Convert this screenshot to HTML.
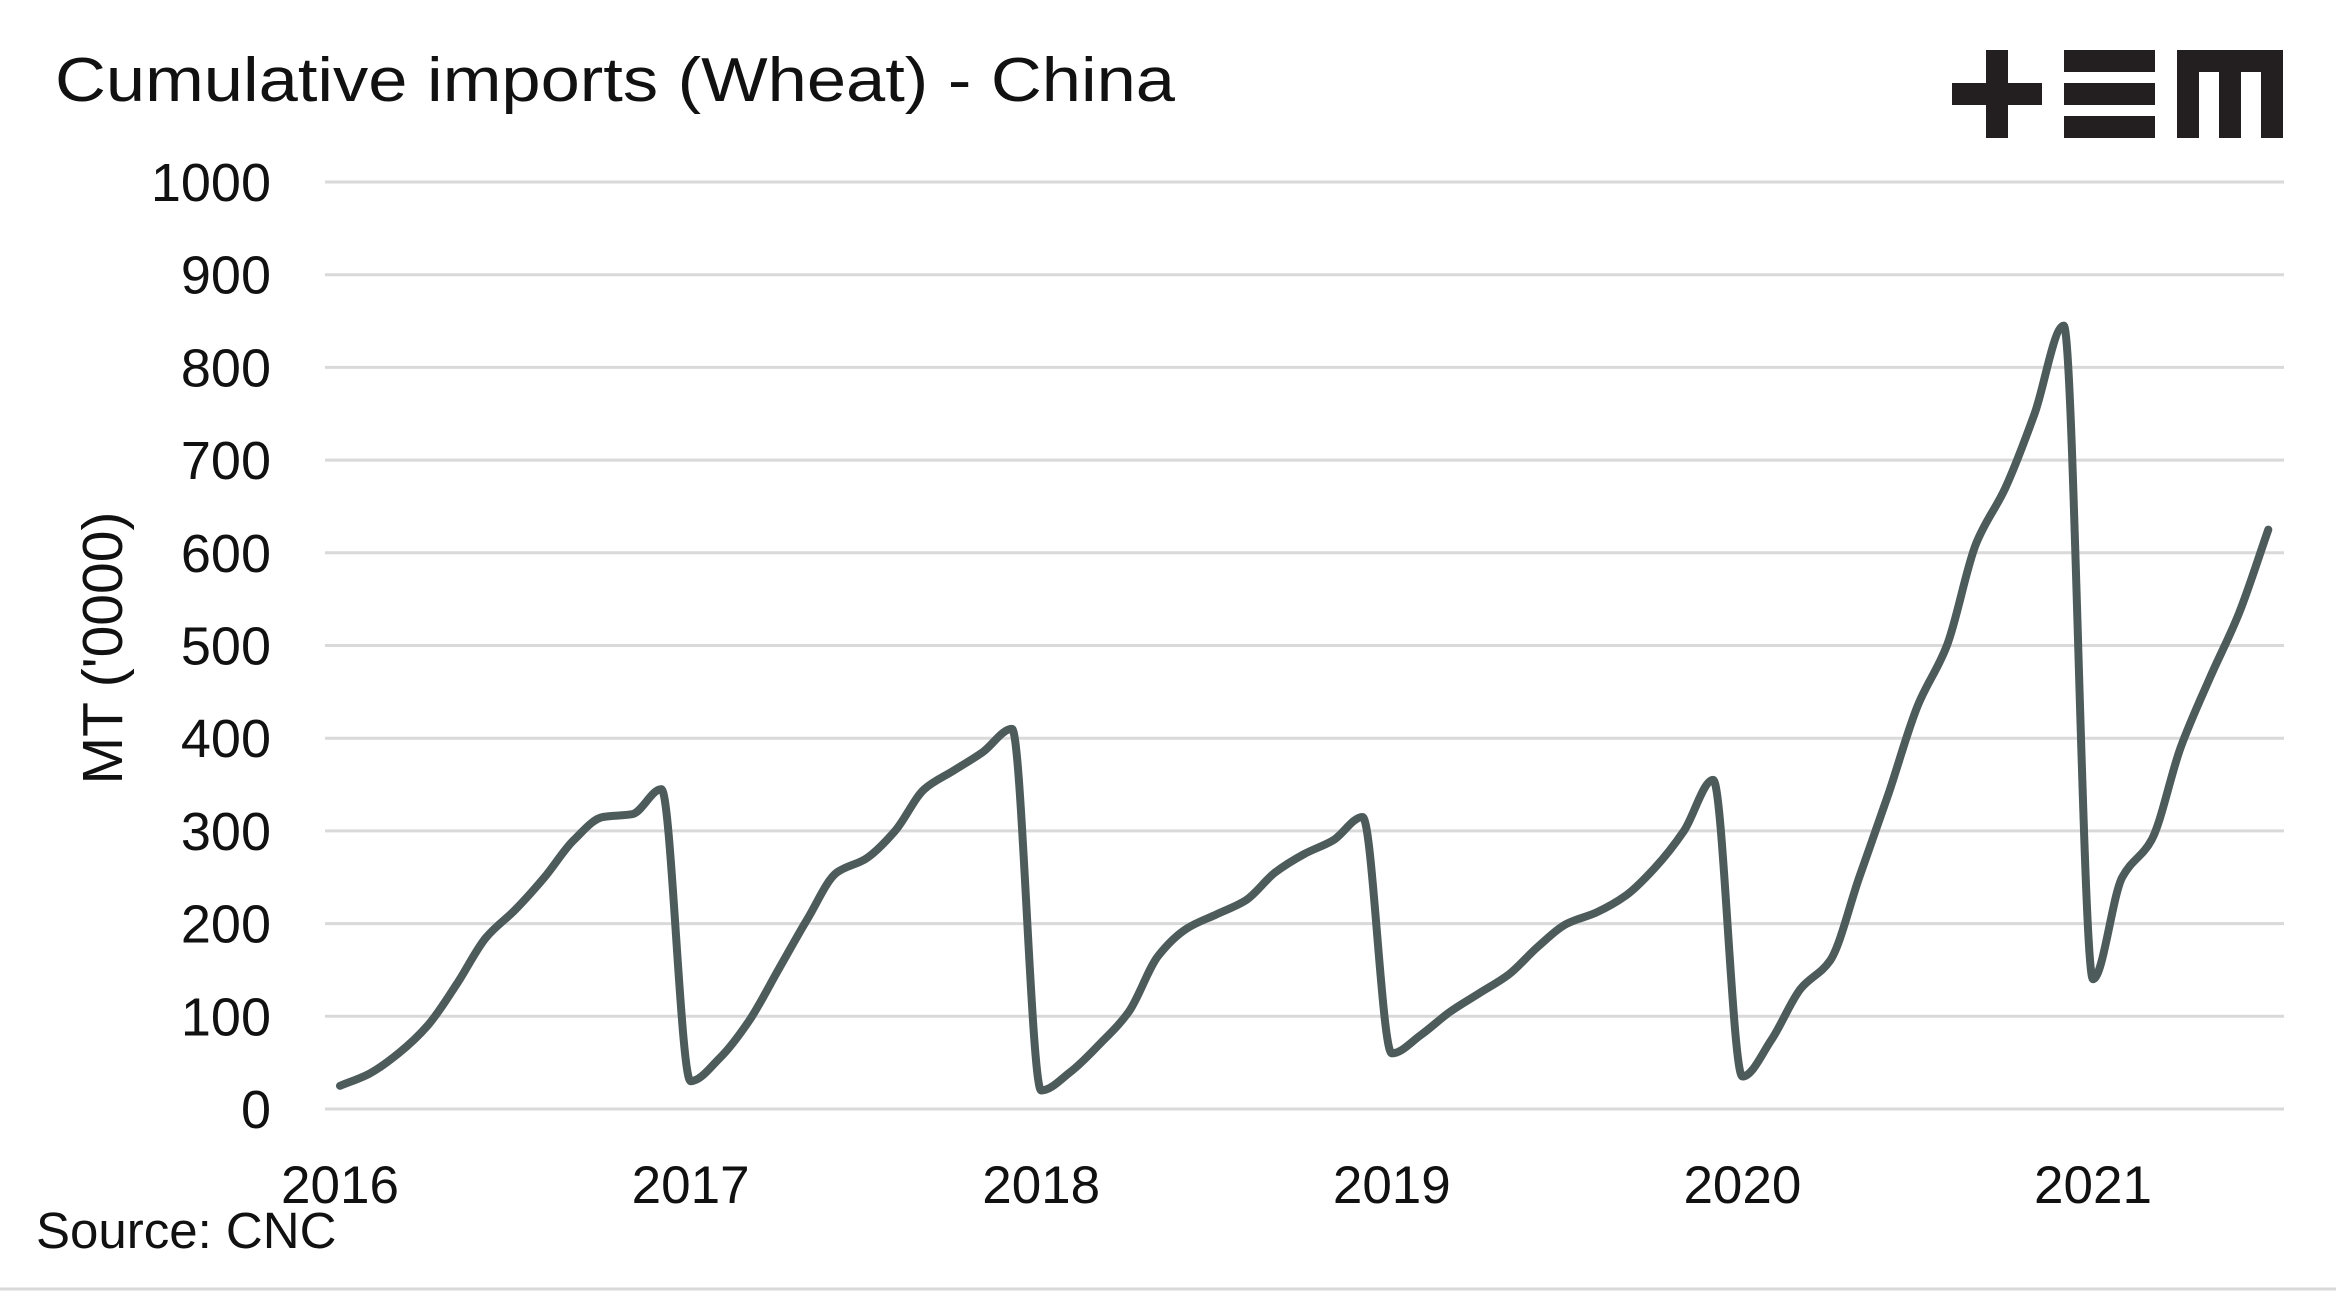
<!DOCTYPE html>
<html><head><meta charset="utf-8"><style>
html,body{margin:0;padding:0;background:#fff;}
svg{display:block;font-family:"Liberation Sans",sans-serif;}
</style></head><body>
<svg id="chart" width="2336" height="1291" viewBox="0 0 2336 1291">
<rect x="0" y="0" width="2336" height="1291" fill="#fff"/>
<line x1="0" y1="1289" x2="2336" y2="1289" stroke="#d9d9d9" stroke-width="3"/>
<text x="55" y="101" font-size="62" fill="#111" textLength="1120" lengthAdjust="spacingAndGlyphs">Cumulative imports (Wheat) - China</text>
<g fill="#231f20">
<rect x="1952" y="83" width="90" height="22"/><rect x="1986" y="50" width="22" height="88"/>
<rect x="2064" y="50" width="91" height="22"/><rect x="2064" y="83" width="91" height="22"/><rect x="2064" y="116" width="91" height="22"/>
<rect x="2177" y="50" width="106" height="22"/><rect x="2177" y="50" width="22" height="88"/><rect x="2219" y="50" width="22" height="88"/><rect x="2261" y="50" width="22" height="88"/>
</g>
<g id="grid"></g><g id="ylabels"></g><g id="xlabels"></g>
<text x="107" y="648" font-size="57" fill="#111" text-anchor="middle" dominant-baseline="middle" transform="rotate(-90 107 648)">MT ('0000)</text>
<text x="36" y="1248" font-size="51" fill="#111">Source: CNC</text>
<path id="line" fill="none" stroke="#4d5b5b" stroke-width="8" stroke-linejoin="round" stroke-linecap="round"/>
</svg>
<script>
const yTicks=[0,100,200,300,400,500,600,700,800,900,1000];
const xYears=[2016,2017,2018,2019,2020,2021];
const startYear=2016;
const values=[25,38,60,90,135,185,215,250,290,315,318,345,
30,55,95,150,205,255,270,300,345,365,385,410,
20,40,70,105,165,195,210,225,255,275,290,315,
60,80,105,125,145,175,200,212,230,260,300,355,
35,75,130,160,250,340,435,500,610,670,750,845,
140,250,290,390,465,535,625];
const NS="http://www.w3.org/2000/svg";
const y=v=>1109-v*(1109-182)/1000;
const x=m=>340+m*(2093-340)/60;
const grid=document.getElementById('grid'),yl=document.getElementById('ylabels'),xl=document.getElementById('xlabels');
yTicks.forEach(t=>{
 const l=document.createElementNS(NS,'line');
 l.setAttribute('x1',325);l.setAttribute('x2',2284);l.setAttribute('y1',y(t));l.setAttribute('y2',y(t));
 l.setAttribute('stroke','#d9d9d9');l.setAttribute('stroke-width','3');
 
 
 grid.appendChild(l);
 const tx=document.createElementNS(NS,'text');
 tx.setAttribute('x',271);tx.setAttribute('y',y(t)+19);tx.setAttribute('text-anchor','end');tx.setAttribute('font-size','54');tx.setAttribute('fill','#111');
 tx.textContent=t;
 
 
 yl.appendChild(tx);
});
xYears.forEach(yr=>{
 const tx=document.createElementNS(NS,'text');
 tx.setAttribute('x',x((yr-startYear)*12));tx.setAttribute('y',1203);tx.setAttribute('text-anchor','middle');tx.setAttribute('font-size','53');tx.setAttribute('fill','#111');
 tx.textContent=yr;
 
 
 xl.appendChild(tx);
});
const px=values.map((v,i)=>x(i)), py=values.map(v=>y(v));
const n=px.length, dx=[], sl=[], m=[];
for(let i=0;i<n-1;i++){dx.push(px[i+1]-px[i]);sl.push((py[i+1]-py[i])/dx[i]);}
m[0]=sl[0];m[n-1]=sl[n-2];
for(let i=1;i<n-1;i++){
 if(sl[i-1]*sl[i]<=0)m[i]=0;
 else{const w1=2*dx[i]+dx[i-1],w2=dx[i]+2*dx[i-1];m[i]=(w1+w2)/(w1/sl[i-1]+w2/sl[i]);}
}
let d='M'+px[0]+','+py[0];
for(let i=0;i<n-1;i++){
 const h=dx[i]/3;
 d+=' C'+(px[i]+h)+','+(py[i]+m[i]*h)+' '+(px[i+1]-h)+','+(py[i+1]-m[i+1]*h)+' '+px[i+1]+','+py[i+1];
}
document.getElementById('line').setAttribute('d',d);
</script>
</body></html>
